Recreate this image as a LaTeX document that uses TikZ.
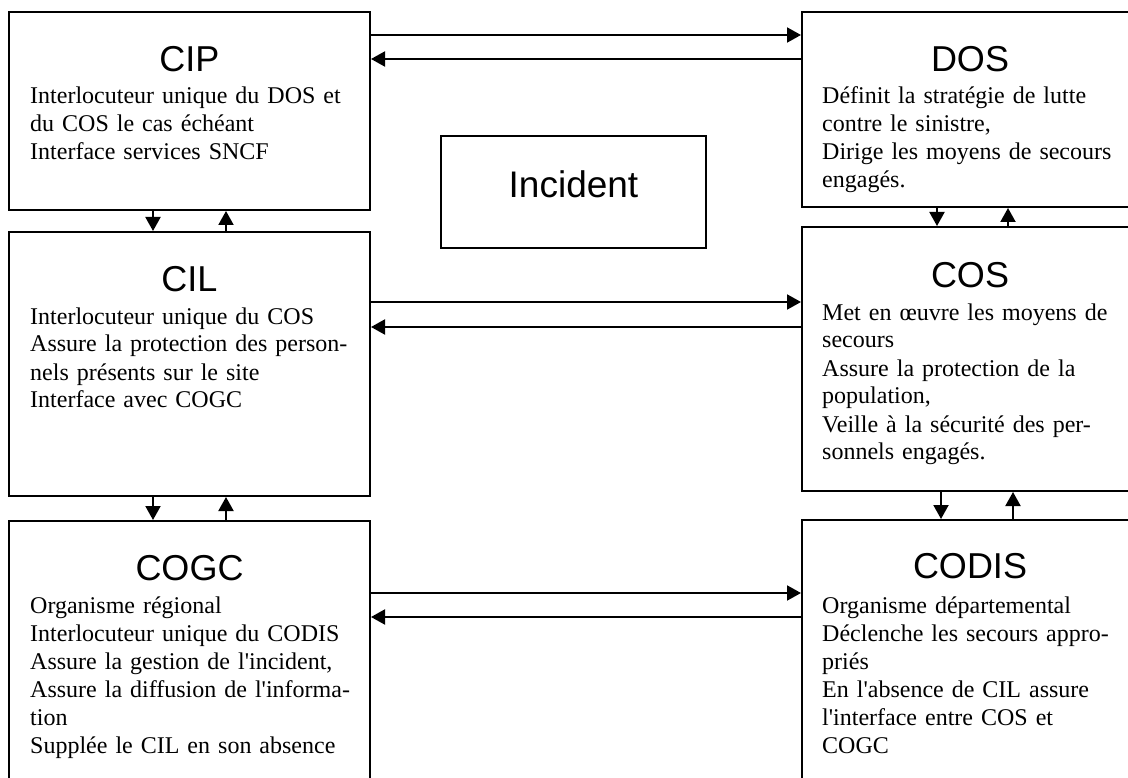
\documentclass[tikz,border=0pt]{standalone}
\usepackage{fontspec}
\setmainfont{Liberation Serif}
\newfontfamily\titlefont{Liberation Sans}
\usetikzlibrary{arrows.meta}
\newcommand{\apos}{\textquotesingle}
\begin{document}
\begin{tikzpicture}[x=1pt,y=-1pt,
  box/.style={draw=black,line width=2pt,rectangle,inner sep=0pt,fill=none},
  ttl/.style={anchor=base,inner sep=0pt,font=\titlefont\fontsize{36}{40}\selectfont},
  bodyL/.style={anchor=base west,inner sep=0pt,text width=316pt,align=left,font=\fontsize{24}{28}\selectfont},
  bodyR/.style={anchor=base west,inner sep=0pt,text width=296pt,align=left,font=\fontsize{24}{28}\selectfont},
  arr/.style={line width=2pt,-{Triangle[length=14pt,width=15pt]}}]
\useasboundingbox (0,0) rectangle (1128,778);
\fill[white] (0,0) rectangle (1128,778);
\clip (0,0) rectangle (1128,778);
% boxes
\node[box,minimum width=361,minimum height=198] (cip) at (189.5,111) {};
\node[box,minimum width=361,minimum height=264] (cil) at (189.5,364) {};
\node[box,minimum width=361,minimum height=270] (cogc) at (189.5,656) {};
\node[box,minimum width=336,minimum height=195] (dos) at (970,109.5) {};
\node[box,minimum width=336,minimum height=264] (cos) at (970,359) {};
\node[box,minimum width=336,minimum height=270] (codis) at (970,655) {};
\node[box,minimum width=265,minimum height=112] (inc) at (573.5,192) {};
% titles
\node[ttl] (tcip) at (189.5,72) {CIP};
\node[ttl] (tcil) at (189.5,292) {CIL};
\node[ttl] (tcogc) at (189.5,580) {COGC};
\node[ttl] (tdos) at (970,72) {DOS};
\node[ttl] (tcos) at (970,288) {COS};
\node[ttl] (tcodis) at (970,578) {CODIS};
\node[anchor=base,inner sep=0pt,font=\titlefont\fontsize{37}{40}\selectfont] (tinc) at (573.5,198) {Incident};
% bodies
\node[bodyL] (bcip) at (30,104) {Interlocuteur unique du DOS et\\du COS le cas échéant\\Interface services SNCF};
\node[bodyL] (bcil) at (30,324) {Interlocuteur unique du COS\\\makebox[\linewidth][s]{Assure la protection des person-}\\nels présents sur le site\\Interface avec COGC};
\node[bodyL] (bcogc) at (30,613) {Organisme régional\\Interlocuteur unique du CODIS\\Assure la gestion de l\apos incident,\\\makebox[\linewidth][s]{Assure la diffusion de l\apos informa-}\\tion\\Supplée le CIL en son absence};
\node[bodyR] (bdos) at (822,104) {Définit la stratégie de lutte\\contre le sinistre,\\Dirige les moyens de secours\\engagés.};
\node[bodyR] (bcos) at (822,320) {Met en œuvre les moyens de\\secours\\Assure la protection de la\\population,\\Veille à la sécurité des per-\\sonnels engagés.};
\node[bodyR] (bcodis) at (822,613) {Organisme départemental\\Déclenche les secours appro-\\priés\\En l\apos absence de CIL assure\\l\apos interface entre COS et\\COGC};
% horizontal arrows
\draw[arr] (cip.east |- 0,35) -- (dos.west |- 0,35);
\draw[arr] (dos.west |- 0,59) -- (cip.east |- 0,59);
\draw[arr] (cil.east |- 0,302) -- (cos.west |- 0,302);
\draw[arr] (cos.west |- 0,327) -- (cil.east |- 0,327);
\draw[arr] (cogc.east |- 0,593) -- (codis.west |- 0,593);
\draw[arr] (codis.west |- 0,617) -- (cogc.east |- 0,617);
% vertical arrows
\draw[arr] (cip.south -| 153,0) -- (cil.north -| 153,0);
\draw[arr] (cil.north -| 226,0) -- (cip.south -| 226,0);
\draw[arr] (cil.south -| 153,0) -- (cogc.north -| 153,0);
\draw[arr] (cogc.north -| 226,0) -- (cil.south -| 226,0);
\draw[arr] (dos.south -| 937,0) -- (cos.north -| 937,0);
\draw[arr] (cos.north -| 1008,0) -- (dos.south -| 1008,0);
\draw[arr] (cos.south -| 941,0) -- (codis.north -| 941,0);
\draw[arr] (codis.north -| 1013,0) -- (cos.south -| 1013,0);
\end{tikzpicture}
\end{document}
